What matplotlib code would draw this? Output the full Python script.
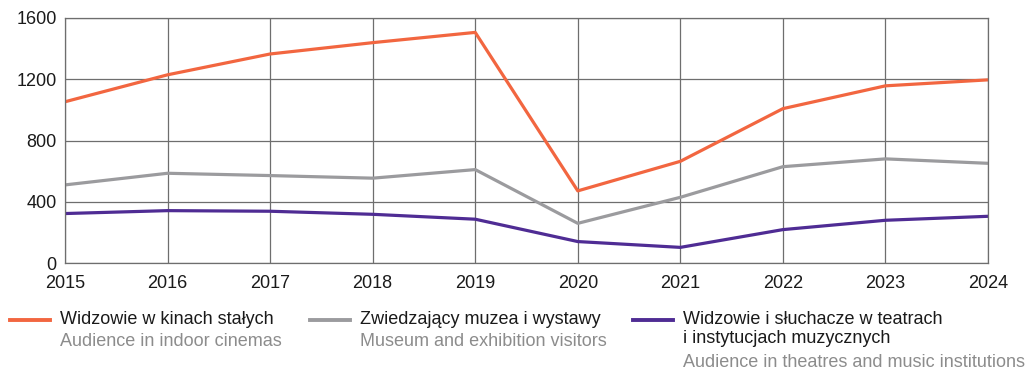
import matplotlib.pyplot as plt
from matplotlib.lines import Line2D

years = [2015, 2016, 2017, 2018, 2019, 2020, 2021, 2022, 2023, 2024]
cinemas = [1053, 1229, 1365, 1439, 1506, 471, 664, 1008, 1157, 1196]
museums = [510, 586, 571, 554, 610, 259, 429, 629, 680, 651]
theatres = [323, 342, 338, 318, 286, 140, 102, 218, 279, 305]

labels_pl = ["Widzowie w kinach stałych",
             "Zwiedzający muzea i wystawy",
             "Widzowie i słuchacze w teatrach\ni instytucjach muzycznych"]
labels_en = ["Audience in indoor cinemas",
             "Museum and exhibition visitors",
             "Audience in theatres and music institutions"]
colors = ["#f26640", "#9b9b9e", "#4f2c94"]

plt.rcParams['font.family'] = ['Liberation Sans', 'DejaVu Sans']

W, H = 1027, 369
fig = plt.figure(figsize=(W / 100, H / 100), dpi=100)
ax = fig.add_axes([65 / W, 1 - 263 / H, 923 / W, 245 / H])

for series, c in zip([cinemas, museums, theatres], colors):
    ax.plot(years, series, color=c, lw=2.3, solid_joinstyle='round')

ax.set_xlim(2015, 2024)
ax.set_ylim(0, 1600)
ax.set_xticks(years)
ax.set_yticks([0, 400, 800, 1200, 1600])
ax.grid(True, color='#6e6e6e', lw=0.9)
ax.set_axisbelow(True)
for s in ax.spines.values():
    s.set_color('#6e6e6e')
    s.set_linewidth(0.9)
ax.tick_params(length=0, labelsize=13, colors='#1a1a1a')
ax.tick_params(axis='x', pad=9)
ax.tick_params(axis='y', pad=6)

# legend drawn by hand, three columns
cols_x = [10, 310, 633]
y0 = 320
for i in range(3):
    x0 = cols_x[i]
    fig.add_artist(Line2D([x0 / W, (x0 + 40) / W], [1 - y0 / H, 1 - y0 / H],
                          color=colors[i], lw=2.8))
    fig.text((x0 + 50) / W, 1 - (y0 - 9) / H, labels_pl[i], fontsize=13,
             color='#1a1a1a', va='top', ha='left', linespacing=1.15)
    n = labels_pl[i].count("\n")
    fig.text((x0 + 50) / W, 1 - (y0 - 8 + 21 * (n + 1)) / H, labels_en[i],
             fontsize=13, color='#8c8c8c', va='top', ha='left')

fig.savefig("out.png", dpi=100)
